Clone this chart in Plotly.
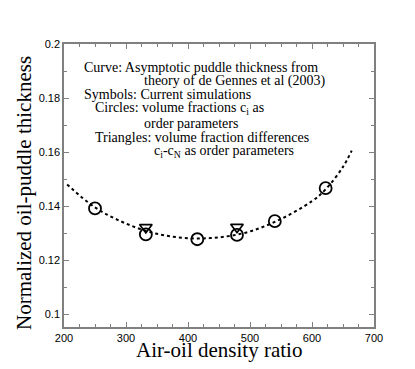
import plotly.graph_objects as go

# Theory curve (de Gennes et al 2003)
curve_x = [205, 250, 300, 350, 400, 450, 500, 550, 600, 622, 650, 664]
curve_y = [0.148, 0.1395, 0.1335, 0.1297, 0.1281, 0.1284, 0.1306, 0.1352, 0.1418, 0.1462, 0.1545, 0.1605]

# Simulations: circles (c_i) and triangles (c_i - c_N)
circ_x = [250, 332, 415, 479, 540, 622]
circ_y = [0.1391, 0.1295, 0.1277, 0.1293, 0.1344, 0.1466]
tri_x = [332, 479]
tri_y = [0.1321, 0.1322]

legend_lines = [
    ("Curve: Asymptotic puddle thickness from", 82),
    ("theory of de Gennes et al (2003)", 142),
    ("Symbols: Current simulations", 82),
    ("Circles: volume fractions c<sub>i</sub> as", 93),
    ("order parameters", 142),
    ("Triangles: volume fraction differences", 93),
    ("c<sub>i</sub>-c<sub>N</sub> as order parameters", 152),
]

serif = "Liberation Serif"
sans = "Liberation Sans"

# plot area in pixels
L, R, T, B = 64, 374, 44, 327
W, H = 415, 369

fig = go.Figure()

fig.add_trace(go.Scatter(
    x=curve_x, y=curve_y, mode="lines", line_shape="spline",
    line=dict(color="black", width=2, dash="dot"), showlegend=False
))
fig.add_trace(go.Scatter(
    x=circ_x, y=circ_y, mode="markers",
    marker=dict(symbol="circle-open", size=12, color="black", line=dict(width=1.8)),
    showlegend=False
))
fig.add_trace(go.Scatter(
    x=tri_x, y=tri_y, mode="markers",
    marker=dict(symbol="triangle-down-open", size=11, color="black", line=dict(width=1.6)),
    showlegend=False
))

axis_common = dict(
    showgrid=False, zeroline=False, showline=True, linecolor="#808080", linewidth=1.5,
    mirror="ticks", ticks="inside", ticklen=5, tickcolor="#808080", automargin=False,
    tickfont=dict(family=sans, size=11, color="black"),
)

fig.update_xaxes(
    range=[200, 700], dtick=100,
    minor=dict(dtick=25, ticks="inside", ticklen=3, tickcolor="#808080"),
    **axis_common
)
fig.update_yaxes(
    range=[0.0952, 0.2], tickvals=[0.1, 0.12, 0.14, 0.16, 0.18, 0.2],
    ticktext=["0.1", "0.12", "0.14", "0.16", "0.18", "0.2"],
    minor=dict(dtick=0.01, ticks="inside", ticklen=3, tickcolor="#808080"),
    **axis_common
)

def px_x(p):
    return (p - L) / (R - L)

def px_y(p):
    return (B - p) / (B - T)

# text block inside the plot, one line per annotation
for i, (txt, px) in enumerate(legend_lines):
    fig.add_annotation(
        x=px_x(px), xref="paper", xanchor="left",
        y=px_y(67 + 14 * i), yref="paper", yanchor="middle",
        text=txt, showarrow=False,
        font=dict(family=serif, size=14, color="black"),
    )

# axis titles
fig.add_annotation(
    x=px_x(219), y=px_y(350), xref="paper", yref="paper",
    xanchor="center", yanchor="middle",
    text="Air-oil density ratio", showarrow=False,
    font=dict(family=serif, size=21, color="black"),
)
fig.add_annotation(
    x=px_x(24), y=px_y(193), xref="paper", yref="paper", textangle=-90,
    xanchor="center", yanchor="middle",
    text="Normalized oil-puddle thickness", showarrow=False,
    font=dict(family=serif, size=21, color="black"),
)

fig.update_layout(
    width=W, height=H,
    margin=dict(l=L, r=W - R, t=T, b=H - B),
    plot_bgcolor="white", paper_bgcolor="white",
)

# drop the default page margin so the figure sits at the window corner
fig.write_html("out.html", config={"displayModeBar": False},
               post_script="document.body.style.margin='0';")
